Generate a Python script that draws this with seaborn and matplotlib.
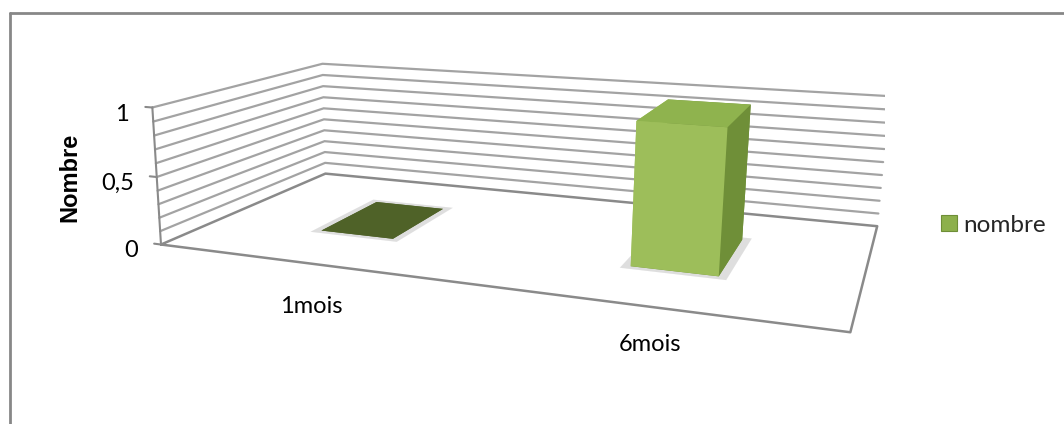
import numpy as np
import matplotlib
matplotlib.use("Agg")
import matplotlib.pyplot as plt
import seaborn as sns
from matplotlib.patches import Patch
from matplotlib.lines import Line2D
from matplotlib.font_manager import FontProperties
from mpl_toolkits.mplot3d import proj3d

# Chart data
categories = ["1mois", "6mois"]
values = [0, 1]
series_name = "nombre"
axis_title = "Nombre"
tick_values = [0, 0.5, 1]
tick_labels = ["0", "0,5", "1"]
grid_levels = [0.1, 0.2, 0.3, 0.4, 0.5, 0.6, 0.7, 0.8, 0.9, 1.0]

sns.set_theme(style="white")
plt.rcParams["font.family"] = ["Lato", "DejaVu Sans"]

FIG_W, FIG_H = 1064, 424
FS = 17

# Scene geometry (physical units): category axis length, depth, value-axis height
W_PHYS, D_PHYS, H_PHYS = 1.90, 1.00, 0.40
n_cat = len(categories)
x_unit = W_PHYS / n_cat          # physical length of one category
z_unit = H_PHYS / 1.0            # physical height of one value unit

# Camera: position, viewing direction, distance to the look-at point
elev, azim = 14.5, -67.6
cam = np.array([2.092, -2.88, 1.0])
look = np.array([-np.cos(np.radians(elev)) * np.cos(np.radians(azim)),
                 -np.cos(np.radians(elev)) * np.sin(np.radians(azim)),
                 -np.sin(np.radians(elev))])
s_look = 3.646
centre = cam + s_look * look

# Box centred on the look-at point that contains the whole floor/walls
half = np.array([max(centre[0], W_PHYS - centre[0]),
                 max(centre[1], D_PHYS - centre[1]),
                 max(centre[2], H_PHYS - centre[2])])
lo_p, hi_p = centre - half, centre + half
xlim = (lo_p[0] / x_unit, hi_p[0] / x_unit)
ylim = (lo_p[1] / D_PHYS, hi_p[1] / D_PHYS)
zlim = (lo_p[2] / z_unit, hi_p[2] / z_unit)
extent = 2 * half
k_norm = 1.8294640721620434 / np.linalg.norm(extent)

bar_w, bar_d = 0.25, 0.38
front_col, side_col, top_col = "#9DBE5A", "#6F8F38", "#8FB34E"
flat_col = "#4F6228"
wall_col, floor_col = "#A3A3A3", "#8A8A8A"

# category label anchors (x offset from the category centre, depth position)
label_dx = [0.20, 0.07]
label_y = [-0.315, -0.25]
tick_label_drop = 0.05   # value-axis labels sit slightly below their tick

fig = plt.figure(figsize=(FIG_W / 100, FIG_H / 100), dpi=100)
fig.patch.set_facecolor("white")

# outer chart border: only its top and left edges fall inside the canvas
bx, by = 9.5 / FIG_W, 1 - 12.5 / FIG_H
fig.lines.append(Line2D([bx, 1.0], [by, by], transform=fig.transFigure,
                        color="#878787", linewidth=2))
fig.lines.append(Line2D([bx, bx], [0.0, by], transform=fig.transFigure,
                        color="#878787", linewidth=2))

S0 = 700
ax = fig.add_axes([(454 - S0 / 2) / FIG_W, (FIG_H - 211 - S0 / 2) / FIG_H,
                   S0 / FIG_W, S0 / FIG_H], projection="3d", computed_zorder=False)
ax.set_xlim(*xlim)
ax.set_ylim(*ylim)
ax.set_zlim(*zlim)
ax.set_box_aspect(tuple(extent), zoom=1.0)
ax.view_init(elev=elev, azim=azim)
dist = getattr(ax, "_dist", 10)
ax.set_proj_type("persp", focal_length=s_look * k_norm / dist)
ax.set_axis_off()

W = n_cat
# walls: gridlines on the left and back walls
for z in grid_levels:
    ax.plot([0, 0, W], [0, 1, 1], [z, z, z], color=wall_col, lw=1.6, zorder=1,
            solid_joinstyle="miter")
# floor outline
ax.plot([0, W, W, 0, 0], [0, 0, 1, 1, 0], [0, 0, 0, 0, 0], color=floor_col, lw=1.8, zorder=1)
# value axis with its ticks and labels
ax.plot([0, 0], [0, 0], [0, 1], color=floor_col, lw=1.5, zorder=1)
for v, lab in zip(tick_values, tick_labels):
    ax.plot([-0.025, 0], [0, 0], [v, v], color=floor_col, lw=1.5, zorder=1)
    ax.text(-0.085, 0, v - tick_label_drop, lab, ha="right", va="center_baseline",
            fontsize=FS, color="black")

# bars with a soft footprint shadow
for i, (cat, v) in enumerate(zip(categories, values)):
    x0 = i + 0.5 - bar_w / 2
    y0 = 0.5 - bar_d / 2
    pad = 0.025
    ax.bar3d(x0 - pad, y0 - pad, 0, bar_w + 2 * pad, bar_d + 2 * pad, 0,
             color="#C8C8C8", alpha=0.35, shade=False, edgecolor="none", zorder=4)
    if v == 0:
        cols = [flat_col] * 6
    else:
        # face order: bottom, top, front(-y), back(+y), left(-x), right(+x)
        cols = [side_col, top_col, front_col, side_col, front_col, side_col]
    ax.bar3d(x0, y0, 0, bar_w, bar_d, v, color=cols, shade=False,
             edgecolor="none", zorder=5)
    ax.text(i + 0.5 + label_dx[i], label_y[i], 0, cat, ha="center", va="center",
            fontsize=FS, color="black")

# place the 3D box so its floor and wall corners land on the layout targets
targets = np.array([[163, 248], [848, 331], [879, 225], [323, 175],
                    [153, 110], [322, 62], [890, 93]], dtype=float)
targets[:, 1] = FIG_H - targets[:, 1]
corner_pts = np.array([[0, 0, 0], [W, 0, 0], [W, 1, 0], [0, 1, 0],
                       [0, 0, 1], [0, 1, 1], [W, 1, 1]], dtype=float)
fig.canvas.draw()
M = ax.get_proj()
px, py, _ = proj3d.proj_transform(corner_pts[:, 0], corner_pts[:, 1], corner_pts[:, 2], M)
disp = ax.transData.transform(np.column_stack([px, py]))
bb = ax.get_position().transformed(fig.transFigure)
c0 = np.array([(bb.x0 + bb.x1) / 2, (bb.y0 + bb.y1) / 2])
size0 = bb.width
q = (disp - c0) / size0
A = np.zeros((2 * len(q), 3))
A[0::2, 0] = 1
A[1::2, 1] = 1
A[0::2, 2] = q[:, 0]
A[1::2, 2] = q[:, 1]
sol, *_ = np.linalg.lstsq(A, targets.reshape(-1), rcond=None)
cx, cy, size = sol
ax.set_position([(cx - size / 2) / FIG_W, (cy - size / 2) / FIG_H, size / FIG_W, size / FIG_H])

title_font = FontProperties(family=["Liberation Sans", "DejaVu Sans"], weight="bold", size=17)
fig.text(70 / FIG_W, 1 - 177 / FIG_H, axis_title, rotation=90, ha="center", va="center",
         fontproperties=title_font, color="black")

handle = Patch(facecolor="#8DB04C", edgecolor="#6E8E37", linewidth=0.8)
fig.legend([handle], [series_name], loc="center left",
           bbox_to_anchor=(941 / FIG_W, 1 - 225 / FIG_H),
           frameon=False, fontsize=17.5, handlelength=0.66, handleheight=0.66,
           handletextpad=0.25, borderpad=0, borderaxespad=0)

fig.savefig("out.png", dpi=100, facecolor="white")
